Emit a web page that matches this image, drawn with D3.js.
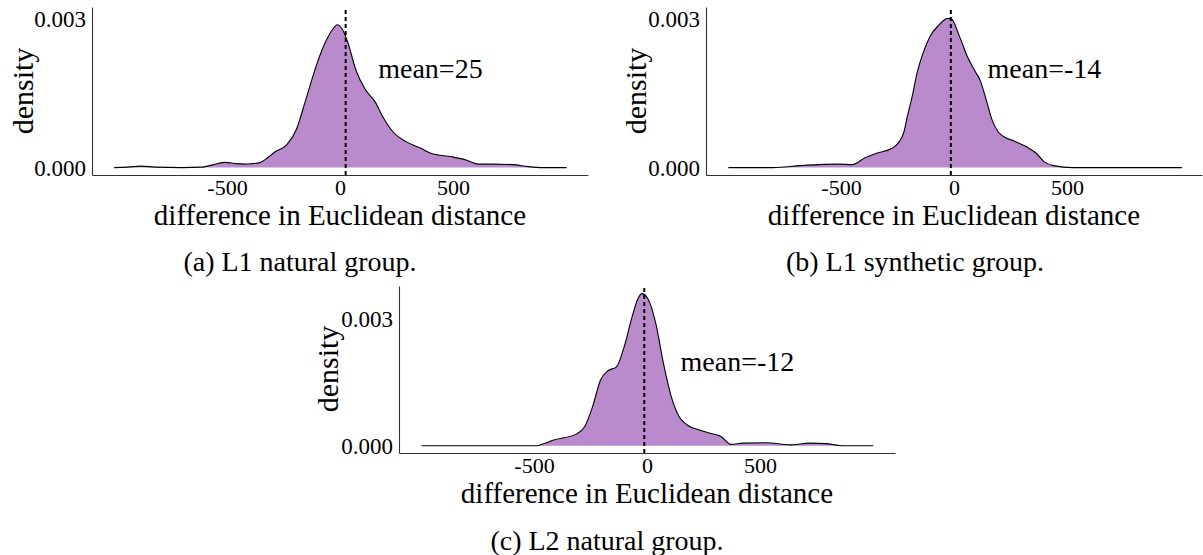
<!DOCTYPE html>
<html>
<head>
<meta charset="utf-8">
<script src="https://cdn.jsdelivr.net/npm/d3@7"></script>
<style>
  html, body { margin: 0; padding: 0; background: #ffffff; }
  svg { display: block; }
  text { font-family: "Liberation Serif", "DejaVu Serif", serif; fill: #000; }
</style>
</head>
<body>
<svg id="chart" width="1203" height="555"></svg>
<script>
// ---- data ----
const xTicks = [-500, 0, 500];
const xTickLabels = ["-500", "0", "500"];
const yTicks = [0, 0.003];
const yTickLabels = ["0.000", "0.003"];
const xLabel = "difference in Euclidean distance";
const yLabel = "density";

// (a) L1 natural group
const diffA = [-999, -940, -880, -820, -700, -609, -560, -507, -460, -423, -390, -355, -320, -287, -236, -193, -151, -100, -58, -32, -12, 10, 35, 69, 112, 154, 188, 239, 290, 358, 408, 493, 561, 612, 680, 765, 832, 900, 1002];
const densA = [0, 0.00001, 0.00003, 0.00001, 0, 0.00001, 0.00006, 0.000106, 0.00008, 0.00007, 0.00008, 0.0001, 0.0002, 0.00032, 0.00046, 0.00077, 0.00138, 0.00213, 0.0026, 0.0028, 0.00289, 0.0028, 0.00253, 0.00199, 0.00158, 0.00134, 0.00104, 0.0007, 0.00053, 0.00039, 0.00028, 0.00022, 0.00015, 0.00007, 0.00007, 0.00006, 0.00002, 0, 0];

// (b) L1 synthetic group
const diffB = [-998, -800, -679, -600, -509, -450, -393, -342, -274, -248, -223, -206, -185, -163, -138, -104, -70, -27, -10, 23, 58, 92, 117, 142, 168, 194, 219, 270, 321, 364, 398, 440, 525, 1008];
const densB = [0, 0, 0.00004, 0.00006, 0.00007, 0.00006, 0.0002, 0.00029, 0.00039, 0.00049, 0.0007, 0.00104, 0.00144, 0.00192, 0.0023, 0.00267, 0.00287, 0.00302, 0.003, 0.00267, 0.00226, 0.00196, 0.00175, 0.00138, 0.00097, 0.00073, 0.00063, 0.00053, 0.00042, 0.00029, 0.00012, 0.00004, 0, 0];

// (c) L2 natural group
const diffC = [-997, -486, -451, -416, -311, -276, -241, -206, -171, -136, -101, -66, -40, -23, 4, 39, 73, 108, 143, 178, 231, 283, 327, 371, 423, 528, 633, 721, 791, 861, 1001];
const densC = [0, 0, 0.00006, 0.00013, 0.00028, 0.00045, 0.00092, 0.00155, 0.00178, 0.00186, 0.00234, 0.00305, 0.00348, 0.0036, 0.00348, 0.00289, 0.00194, 0.00115, 0.00068, 0.00049, 0.00037, 0.00029, 0.00022, 0.00003, 0.00006, 0.00007, 0.00002, 0.00006, 0.00005, 0, 0];

const means = [25, -14, -12];
const meanLabels = ["mean=25", "mean=-14", "mean=-12"];
const meanLabelPos = [[400, 0.002], [400, 0.002], [400, 0.002]];
const captions = ["(a) L1 natural group.", "(b) L1 synthetic group.", "(c) L2 natural group."];

// ---- layout ----
const panels = [
  { x: diffA, y: densA, xr: [92, 588], yr: [175, 7], yd: [-0.00015, 0.00325], ylab: [22, 91], cap: [300, 261] },
  { x: diffB, y: densB, xr: [706, 1202], yr: [175, 7], yd: [-0.00015, 0.00325], ylab: [635, 91], cap: [915, 261] },
  { x: diffC, y: densC, xr: [399, 895], yr: [453, 286], yd: [-0.000173, 0.00378], ylab: [327, 369], cap: [607, 540] }
];
const xDomain = [-1097, 1097];
const serif = '"Liberation Serif", "DejaVu Serif", serif';

const svg = d3.select("#chart");

panels.forEach((p, i) => {
  const x = d3.scaleLinear().domain(xDomain).range(p.xr);
  const y = d3.scaleLinear().domain(p.yd).range(p.yr);
  const pts = p.x.map((v, k) => [v, p.y[k]]);
  const g = svg.append("g");

  g.append("path").datum(pts)
    .attr("d", d3.area().x(d => x(d[0])).y0(y(0)).y1(d => y(d[1])).curve(d3.curveMonotoneX))
    .attr("fill", "#9b59b6").attr("fill-opacity", 0.7).attr("stroke", "none");

  g.append("path").datum(pts)
    .attr("d", d3.line().x(d => x(d[0])).y(d => y(d[1])).curve(d3.curveMonotoneX))
    .attr("fill", "none").attr("stroke", "#000").attr("stroke-width", 1.1);

  // mean line
  g.append("line")
    .attr("x1", x(means[i])).attr("x2", x(means[i]))
    .attr("y1", p.yr[0]).attr("y2", p.yr[1])
    .attr("stroke", "#000").attr("stroke-width", 2).attr("stroke-dasharray", "4,3");

  // axes
  const gx = g.append("g").attr("transform", `translate(0,${p.yr[0]})`)
    .call(d3.axisBottom(x).tickValues(xTicks).tickFormat((d, k) => xTickLabels[k]).tickSize(0).tickSizeOuter(0));
  gx.attr("font-family", serif);
  gx.select(".domain").attr("stroke", "#333").attr("stroke-width", 1.1);
  gx.selectAll("text").attr("y", 12).attr("dy", null).attr("dominant-baseline", "central")
    .style("font-family", serif).style("font-size", "22px").attr("fill", "#000");

  const gy = g.append("g").attr("transform", `translate(${p.xr[0]},0)`)
    .call(d3.axisLeft(y).tickValues(yTicks).tickFormat((d, k) => yTickLabels[k]).tickSize(0).tickSizeOuter(0).tickPadding(6));
  gy.attr("font-family", serif);
  gy.select(".domain").attr("stroke", "#333").attr("stroke-width", 1.1);
  gy.selectAll("text").attr("dy", null).attr("dominant-baseline", "central")
    .style("font-family", serif).style("font-size", "23px").attr("fill", "#000");

  // axis titles
  g.append("text")
    .attr("x", (p.xr[0] + p.xr[1]) / 2).attr("y", p.yr[0] + 40)
    .attr("text-anchor", "middle").attr("dominant-baseline", "central")
    .style("font-family", serif).style("font-size", "29px").text(xLabel);

  g.append("text")
    .attr("transform", `translate(${p.ylab[0]},${p.ylab[1]}) rotate(-90)`)
    .attr("text-anchor", "middle").attr("dominant-baseline", "central")
    .style("font-family", serif).style("font-size", "30px").text(yLabel);

  // mean annotation
  g.append("text")
    .attr("x", x(meanLabelPos[i][0])).attr("y", y(meanLabelPos[i][1]))
    .attr("text-anchor", "middle").attr("dominant-baseline", "central")
    .style("font-family", serif).style("font-size", "28px").text(meanLabels[i]);

  // caption
  svg.append("text")
    .attr("x", p.cap[0]).attr("y", p.cap[1])
    .attr("text-anchor", "middle").attr("dominant-baseline", "central")
    .style("font-family", serif).style("font-size", "28px").text(captions[i]);
});
</script>
</body>
</html>
